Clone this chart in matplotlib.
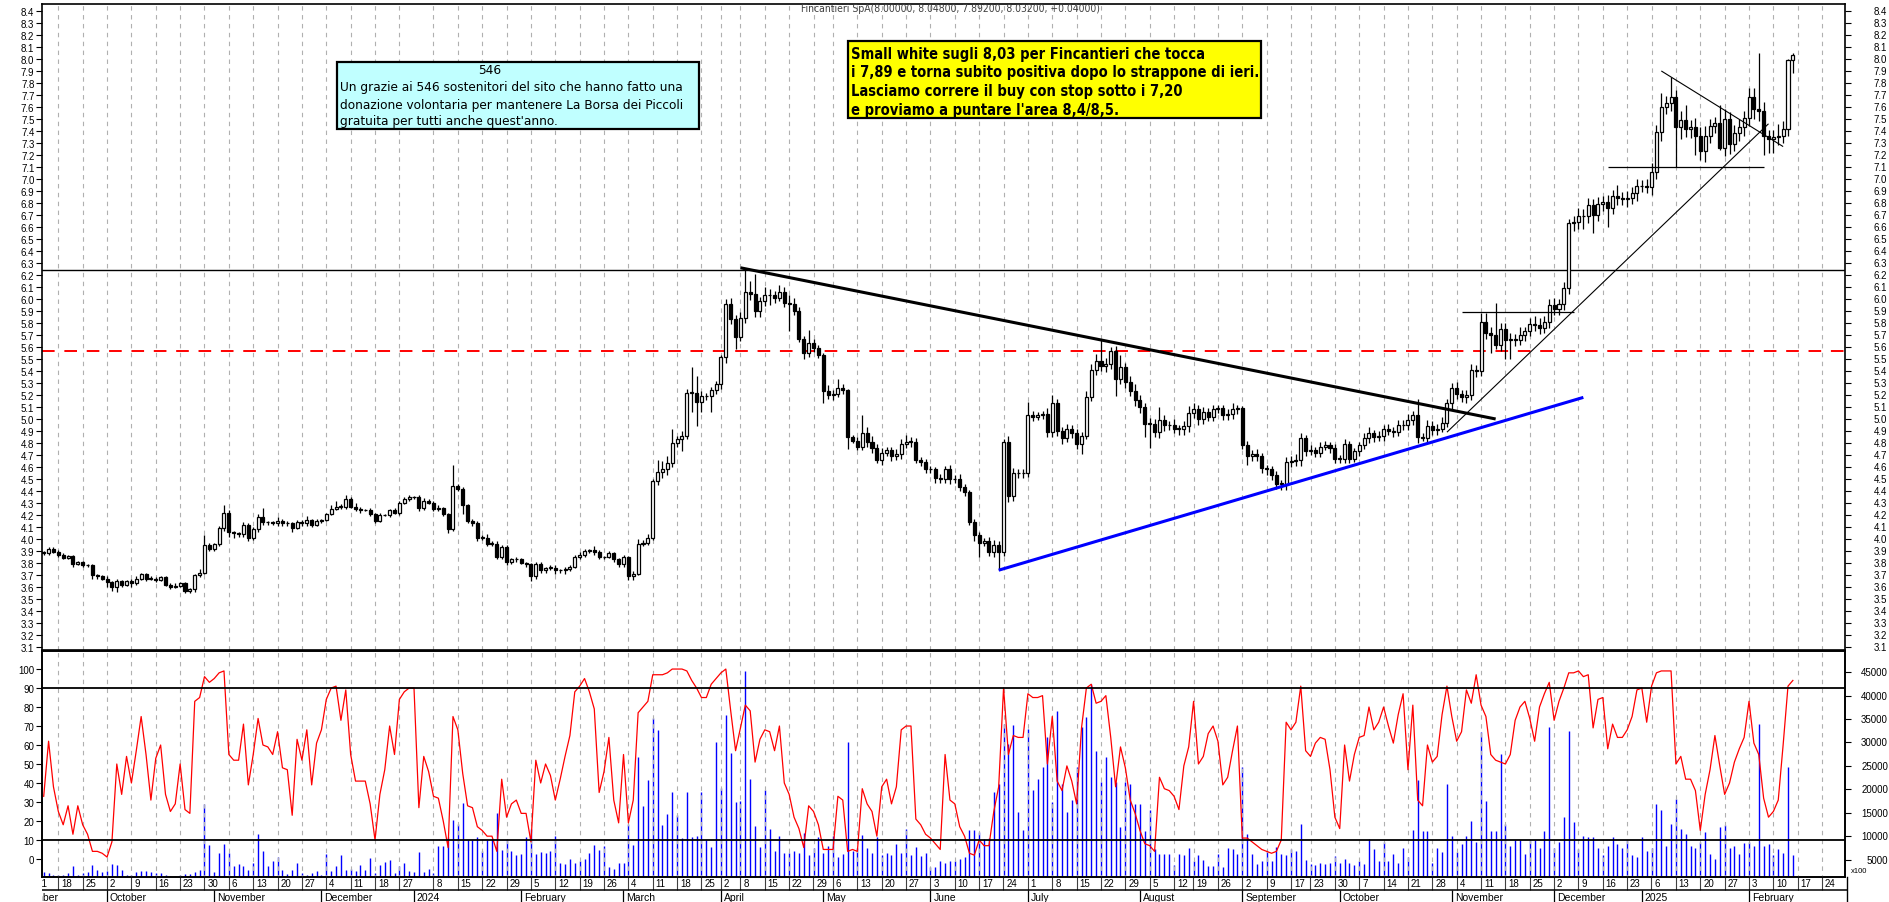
import matplotlib
matplotlib.use('Agg')
import matplotlib.pyplot as plt
import matplotlib.transforms as mtransforms
from matplotlib import font_manager
from matplotlib.patches import Rectangle
import numpy as np
import pandas as pd

W, H = 1890, 903

# daily closes, 13 Sep 2023 -> 14 Feb 2025
closes = [
    3.88, 3.92, 3.89, 3.87, 3.84, 3.86, 3.79, 3.81, 3.78, 3.78,
    3.70, 3.69, 3.67, 3.64, 3.60, 3.65, 3.62, 3.65, 3.63, 3.67,
    3.71, 3.67, 3.67, 3.66, 3.68, 3.62, 3.60, 3.61, 3.63, 3.57,
    3.58, 3.70, 3.72, 3.95, 3.92, 3.96, 4.09, 4.22, 4.06, 4.05,
    4.04, 4.12, 4.01, 4.08, 4.18, 4.14, 4.14, 4.13, 4.15, 4.13,
    4.13, 4.09, 4.14, 4.13, 4.16, 4.12, 4.15, 4.16, 4.21, 4.25,
    4.27, 4.27, 4.33, 4.27, 4.25, 4.24, 4.24, 4.21, 4.15, 4.20,
    4.20, 4.24, 4.22, 4.30, 4.33, 4.35, 4.35, 4.26, 4.32, 4.30,
    4.25, 4.26, 4.21, 4.08, 4.44, 4.42, 4.28, 4.15, 4.13, 4.01,
    4.01, 3.96, 3.96, 3.85, 3.93, 3.81, 3.83, 3.83, 3.80, 3.79,
    3.69, 3.79, 3.74, 3.76, 3.76, 3.74, 3.74, 3.75, 3.77, 3.85,
    3.87, 3.90, 3.91, 3.89, 3.85, 3.85, 3.88, 3.83, 3.79, 3.85,
    3.69, 3.71, 3.96, 3.97, 4.01, 4.48, 4.56, 4.58, 4.63, 4.80,
    4.83, 4.86, 5.22, 5.22, 5.14, 5.19, 5.19, 5.24, 5.29, 5.52,
    5.96, 5.83, 5.68, 5.84, 6.06, 6.04, 5.90, 5.98, 6.03, 6.03,
    6.01, 6.06, 5.97, 5.96, 5.90, 5.67, 5.55, 5.63, 5.59, 5.53,
    5.23, 5.20, 5.21, 5.26, 5.24, 4.85, 4.82, 4.77, 4.88, 4.81,
    4.76, 4.66, 4.72, 4.74, 4.69, 4.71, 4.79, 4.81, 4.81, 4.66,
    4.64, 4.58, 4.58, 4.51, 4.50, 4.58, 4.50, 4.50, 4.43, 4.39,
    4.14, 4.03, 3.97, 3.98, 3.89, 3.95, 3.89, 4.81, 4.36, 4.55,
    4.55, 4.55, 5.03, 5.02, 5.03, 5.04, 4.89, 5.13, 4.90, 4.84,
    4.92, 4.88, 4.79, 4.86, 5.18, 5.41, 5.48, 5.44, 5.46, 5.57,
    5.33, 5.43, 5.31, 5.23, 5.16, 5.10, 4.96, 4.96, 4.89, 4.99,
    4.95, 4.95, 4.92, 4.92, 4.94, 5.05, 5.08, 5.00, 5.06, 5.02,
    5.08, 5.09, 5.03, 5.04, 5.08, 5.09, 4.78, 4.69, 4.71, 4.69,
    4.59, 4.58, 4.53, 4.46, 4.46, 4.64, 4.65, 4.66, 4.84, 4.73,
    4.74, 4.72, 4.77, 4.78, 4.76, 4.67, 4.67, 4.79, 4.67, 4.73,
    4.78, 4.84, 4.88, 4.85, 4.86, 4.92, 4.90, 4.89, 4.95, 4.95,
    4.99, 5.03, 4.85, 4.84, 4.94, 4.91, 4.92, 4.97, 5.13, 5.26,
    5.21, 5.18, 5.20, 5.41, 5.40, 5.81, 5.72, 5.70, 5.62, 5.75,
    5.66, 5.66, 5.66, 5.70, 5.73, 5.79, 5.78, 5.76, 5.81, 5.95,
    5.92, 5.96, 6.09, 6.63, 6.64, 6.69, 6.69, 6.78, 6.70, 6.79,
    6.81, 6.76, 6.86, 6.84, 6.83, 6.84, 6.88, 6.94, 6.94, 6.93,
    7.06, 7.39, 7.60, 7.63, 7.68, 7.43, 7.49, 7.42, 7.43, 7.36,
    7.23, 7.36, 7.44, 7.47, 7.26, 7.50, 7.29, 7.38, 7.43, 7.51,
    7.68, 7.58, 7.57, 7.36, 7.33, 7.35, 7.36, 7.42, 7.99, 8.03,
]
first_open = 3.89

# shadows above / below the body, in cents
upper_wick = [
    1, 1, 1, 2, 1, 1, 1, 1, 1, 1, 1, 1, 1, 2, 1, 2, 1, 1, 2, 2,
    1, 1, 2, 1, 1, 1, 1, 2, 1, 1, 1, 1, 3, 8, 2, 1, 2, 6, 2, 1,
    1, 2, 1, 2, 3, 8, 1, 1, 3, 2, 2, 1, 2, 2, 3, 1, 2, 1, 1, 3,
    5, 2, 4, 2, 3, 2, 1, 2, 1, 2, 1, 1, 2, 2, 2, 2, 1, 2, 2, 1,
    2, 2, 1, 1, 18, 2, 1, 1, 2, 2, 2, 3, 2, 2, 2, 2, 1, 2, 1, 1,
    1, 2, 2, 1, 2, 2, 1, 2, 1, 2, 2, 2, 1, 3, 2, 1, 2, 1, 1, 2,
    1, 2, 4, 2, 3, 2, 10, 7, 6, 12, 3, 4, 3, 21, 14, 4, 3, 3, 3, 1,
    4, 5, 4, 5, 20, 9, 17, 4, 7, 5, 4, 6, 4, 6, 5, 3, 2, 11, 4, 3,
    2, 5, 3, 7, 3, 1, 2, 3, 15, 5, 5, 3, 4, 3, 3, 4, 4, 6, 4, 3,
    2, 3, 3, 2, 3, 3, 4, 3, 4, 3, 2, 3, 3, 3, 4, 4, 3, 2, 5, 4,
    3, 3, 11, 4, 3, 3, 5, 7, 4, 3, 4, 3, 4, 3, 5, 5, 6, 19, 5, 3,
    4, 10, 4, 5, 6, 4, 3, 5, 4, 11, 4, 3, 5, 3, 4, 6, 5, 4, 4, 3,
    4, 3, 3, 4, 5, 3, 2, 4, 3, 4, 3, 3, 3, 4, 3, 4, 4, 5, 4, 3,
    4, 3, 4, 4, 3, 3, 3, 4, 3, 3, 3, 4, 5, 3, 4, 3, 4, 3, 4, 4,
    5, 4, 14, 3, 5, 4, 4, 5, 4, 4, 5, 3, 4, 5, 4, 7, 7, 5, 27, 5,
    5, 6, 5, 7, 4, 5, 7, 6, 5, 5, 6, 4, 5, 4, 5, 7, 6, 6, 5, 6,
    5, 6, 5, 9, 5, 6, 5, 6, 5, 6, 7, 6, 12, 6, 17, 6, 8, 13, 6, 8,
    7, 8, 6, 5, 15, 8, 6, 7, 7, 6, 8, 8, 47, 7, 5, 6, 10, 6, 1, 2,
]
lower_wick = [
    1, 1, 1, 2, 1, 1, 2, 1, 1, 1, 3, 2, 1, 4, 3, 4, 2, 1, 3, 1,
    1, 2, 1, 2, 1, 1, 2, 1, 1, 2, 2, 2, 2, 1, 2, 2, 2, 2, 4, 4,
    2, 2, 3, 2, 2, 2, 2, 1, 2, 2, 2, 3, 1, 2, 2, 2, 1, 2, 1, 1,
    1, 2, 2, 1, 2, 2, 1, 2, 2, 1, 1, 2, 1, 2, 1, 1, 2, 3, 2, 1,
    2, 2, 2, 3, 1, 2, 7, 2, 2, 3, 2, 2, 2, 2, 2, 3, 2, 2, 1, 2,
    4, 2, 2, 2, 2, 3, 2, 3, 2, 1, 2, 2, 2, 2, 2, 2, 1, 2, 2, 2,
    3, 3, 1, 2, 2, 2, 3, 5, 5, 3, 3, 10, 3, 16, 20, 8, 3, 13, 3, 4,
    5, 4, 10, 3, 4, 5, 5, 5, 4, 8, 4, 3, 4, 23, 3, 3, 5, 3, 3, 2,
    10, 3, 4, 3, 3, 10, 2, 3, 3, 4, 4, 3, 4, 3, 4, 3, 4, 3, 4, 3,
    3, 3, 3, 4, 3, 3, 4, 3, 3, 3, 2, 5, 12, 3, 3, 4, 15, 3, 5, 4,
    4, 4, 3, 4, 3, 3, 4, 4, 4, 5, 3, 4, 4, 8, 3, 3, 4, 4, 5, 4,
    14, 4, 5, 4, 5, 5, 11, 20, 4, 5, 5, 4, 4, 5, 5, 5, 4, 5, 4, 4,
    4, 3, 4, 4, 4, 4, 3, 7, 4, 4, 4, 5, 4, 4, 5, 5, 4, 4, 5, 4,
    3, 4, 4, 3, 4, 4, 4, 4, 4, 3, 4, 3, 4, 4, 3, 4, 3, 4, 3, 4,
    4, 4, 5, 2, 4, 4, 4, 3, 4, 5, 4, 4, 5, 4, 5, 4, 5, 15, 4, 5,
    16, 16, 5, 4, 5, 4, 5, 5, 4, 5, 5, 5, 5, 5, 6, 6, 11, 6, 15, 5,
    6, 16, 5, 6, 5, 6, 5, 6, 5, 5, 6, 6, 7, 6, 6, 33, 10, 7, 8, 16,
    7, 9, 6, 6, 2, 7, 8, 6, 6, 7, 7, 8, 9, 16, 11, 11, 7, 6, 6, 11,
]

# volume (x100)
volumes = [
    2300, 2100, 1700, 1800, 1700, 2100, 3700, 1800, 2200, 2300,
    3900, 2700, 2300, 2500, 4100, 3900, 2800, 1700, 1800, 2300,
    2500, 2500, 2300, 2100, 2200, 1700, 1600, 1600, 1700, 1900,
    2000, 2400, 2900, 16900, 8200, 2400, 6400, 8400, 6400, 3600,
    4100, 3600, 2800, 4200, 10500, 6800, 3700, 4700, 5500, 2900,
    1900, 2900, 4200, 2200, 1800, 2100, 2500, 1800, 6200, 2500,
    3600, 5900, 2800, 3100, 2500, 3900, 2700, 5400, 2200, 3900,
    4500, 5000, 2100, 3600, 4400, 2600, 2300, 6700, 2300, 3000,
    2100, 8000, 7900, 9800, 13500, 12600, 17000, 9100, 9200, 9900,
    6800, 9100, 9400, 15000, 7100, 9400, 6900, 5900, 6200, 9900,
    11500, 6200, 6700, 6400, 6900, 10000, 4300, 4000, 5200, 4400,
    4800, 5200, 6400, 8200, 7100, 8000, 3500, 3000, 4200, 4300,
    12600, 8200, 26800, 16500, 21900, 35200, 32700, 12300, 14700, 19500,
    14500, 9600, 19400, 9900, 10100, 19400, 9300, 7800, 30200, 20200,
    35900, 27700, 17400, 17600, 45300, 22200, 12100, 7800, 19900, 11500,
    6900, 10100, 6400, 6400, 6900, 6400, 10700, 5900, 7600, 9900,
    6400, 7900, 10100, 5500, 6200, 30000, 6900, 7400, 10300, 7500,
    6400, 9900, 6100, 6400, 6000, 8300, 6400, 11500, 5900, 7800,
    5700, 6400, 3400, 3400, 4800, 4400, 4800, 4800, 5200, 5500,
    11300, 11300, 10800, 9400, 9600, 19500, 21100, 33900, 29700, 33700,
    15200, 11300, 32900, 19900, 22200, 24800, 31100, 17400, 36600, 21100,
    15100, 17700, 24700, 33200, 35400, 42500, 28200, 21500, 26800, 22600,
    21500, 11900, 21500, 21100, 16900, 16900, 11200, 15500, 7300, 6200,
    6200, 6200, 3900, 6200, 5900, 7600, 4700, 5900, 5000, 3600,
    3600, 6200, 3400, 7600, 7300, 6200, 24700, 10500, 6200, 4100,
    4800, 6900, 4800, 7800, 6200, 5900, 7300, 6900, 12600, 4900,
    4100, 3900, 4400, 4100, 4400, 5700, 4400, 5200, 4400, 3900,
    4800, 4100, 9400, 7300, 4800, 8700, 4800, 6200, 4400, 7500,
    5500, 11300, 21900, 11200, 11200, 4400, 7600, 6600, 21100, 10100,
    6600, 8300, 10100, 13300, 8700, 32200, 17600, 11200, 11200, 27500,
    12600, 8000, 9100, 9100, 6200, 9100, 9100, 7600, 11200, 33200,
    7600, 8700, 14000, 32500, 13000, 7300, 10100, 9800, 9800, 7600,
    5900, 8000, 9800, 8300, 7600, 9100, 5900, 5500, 9800, 6900,
    7600, 16900, 15500, 8000, 12600, 17900, 11500, 10500, 8000, 7400,
    8700, 10800, 6200, 5200, 11900, 12300, 7600, 8000, 6200, 8500,
    8700, 8000, 33900, 8000, 8300, 5900, 7300, 6400, 24700, 5900,
]

# stochastic oscillator (red line)
stoch = [
    33, 62, 38, 25, 18, 28, 13, 28, 18, 13,
    4, 4, 3, 1, 9, 50, 34, 54, 40, 57,
    75, 55, 31, 53, 60, 34, 25, 29, 50, 26,
    24, 83, 85, 96, 93, 95, 98, 99, 55, 52,
    52, 71, 39, 55, 74, 60, 59, 55, 67, 48,
    47, 23, 63, 52, 68, 39, 61, 68, 84, 90,
    91, 73, 89, 55, 41, 41, 41, 29, 10, 34,
    47, 70, 55, 84, 88, 90, 90, 27, 54, 46,
    33, 32, 20, 6, 75, 68, 45, 28, 27, 17,
    15, 12, 12, 4, 42, 22, 29, 31, 24, 24,
    9, 52, 40, 50, 44, 31, 42, 54, 65, 88,
    91, 95, 88, 79, 35, 46, 64, 31, 19, 55,
    19, 31, 77, 80, 83, 97, 97, 97, 98, 100,
    100, 100, 99, 94, 90, 85, 85, 92, 95, 98,
    100, 78, 57, 69, 81, 78, 51, 63, 68, 67,
    57, 70, 40, 34, 22, 16, 6, 28, 25, 18,
    5, 5, 5, 33, 31, 4, 5, 4, 37, 29,
    25, 12, 38, 42, 29, 38, 68, 70, 70, 21,
    18, 13, 11, 8, 5, 55, 31, 29, 17, 12,
    3, 2, 10, 7, 7, 25, 38, 90, 55, 65,
    64, 64, 87, 85, 85, 86, 50, 75, 41, 36,
    49, 41, 29, 69, 90, 92, 82, 83, 86, 64,
    38, 59, 48, 31, 24, 15, 8, 7, 4, 43,
    37, 36, 33, 26, 49, 59, 83, 50, 54, 66,
    70, 62, 39, 43, 57, 70, 11, 11, 9, 7,
    5, 4, 3, 4, 10, 72, 68, 72, 91, 57,
    54, 61, 64, 63, 47, 22, 16, 60, 41, 55,
    64, 65, 80, 68, 72, 80, 70, 61, 76, 87,
    47, 81, 31, 28, 60, 51, 54, 76, 91, 75,
    62, 67, 89, 82, 97, 81, 75, 55, 52, 51,
    50, 55, 73, 80, 83, 74, 62, 80, 87, 93,
    73, 83, 90, 98, 98, 99, 96, 97, 69, 84,
    85, 58, 71, 64, 64, 68, 75, 89, 90, 72,
    91, 98, 99, 99, 99, 50, 54, 42, 42, 36,
    15, 34, 47, 65, 49, 34, 40, 51, 58, 64,
    83, 61, 55, 32, 22, 25, 31, 60, 91, 94,
]

# exchange closures (plus one session missing from the feed)
holidays = ['2023-12-25', '2023-12-26', '2024-01-01', '2024-03-29', '2024-04-01',
            '2024-05-01', '2024-08-15', '2024-09-16', '2024-12-24', '2024-12-25',
            '2024-12-26', '2024-12-31', '2025-01-01']
first_session = '2023-09-13'

# analyst drawings: (date, price, date, price)
trend_main = ('2024-04-08', 6.26, '2024-11-14', 5.00)
trend_blue = ('2024-06-21', 3.74, '2024-12-10', 5.18)
trend_up = ('2024-10-31', 4.89, '2025-02-07', 7.46)
trend_flag = ('2025-01-08', 7.90, '2025-02-12', 7.27)
shelf_1 = ('2024-11-05', 5.89, '2024-12-06', 5.89)
shelf_2 = ('2024-12-17', 7.10, '2025-02-06', 7.10)
level_black = 6.24
level_red = 5.57
osc_levels = [10, 90]

title = 'Fincantieri SpA(8.00000, 8.04800, 7.89200, 8.03200, +0.04000)'
box_cyan = ['Un grazie ai 546 sostenitori del sito che hanno fatto una',
            'donazione volontaria per mantenere La Borsa dei Piccoli',
            "gratuita per tutti anche quest'anno."]
box_yellow = ['Small white sugli 8,03 per Fincantieri che tocca',
              'i 7,89 e torna subito positiva dopo lo strappone di ieri.',
              'Lasciamo correre il buy con stop sotto i 7,20',
              "e proviamo a puntare l'area 8,4/8,5."]
month_names = ['', '', 'February', 'March', 'April', 'May', 'June', 'July',
               'August', 'September', 'October', 'November', 'December']

plt.rcParams['font.family'] = ['Liberation Sans', 'DejaVu Sans']
names = {f.name for f in font_manager.fontManager.ttflist}
if 'Liberation Sans Narrow' in names:
    narrow = dict(family=['Liberation Sans Narrow', 'DejaVu Sans'])
else:
    narrow = dict(family=['DejaVu Sans'], stretch='condensed')

cal = pd.bdate_range('2023-09-01', '2025-02-28', freq='C', holidays=holidays)
k0 = cal.get_loc(pd.Timestamp(first_session))
pos = np.arange(len(cal)) - k0
pos_of = {d: p for d, p in zip(cal, pos)}


def P(d):
    return pos_of[pd.Timestamp(d)]


n = len(closes)
x = np.arange(n)
c = np.array(closes)
o = np.concatenate([[first_open], c[:-1]])
hi = np.maximum(o, c) + np.array(upper_wick) / 100
lo_w = np.minimum(o, c) - np.array(lower_wick) / 100

# week starts (first session of each week) and month starts
iso = cal.isocalendar()
wk_first = ~pd.Series(list(zip(iso.year, iso.week))).duplicated().values
year_first = ~pd.Series(cal.year).duplicated().values
week_ids = np.cumsum(wk_first)
skip_weeks = set(week_ids[year_first])
week_pos = [p for p, f, w in zip(pos, wk_first, week_ids) if f and w not in skip_weeks]
week_lab = [str(d.day) for d, f, w in zip(cal, wk_first, week_ids) if f and w not in skip_weeks]
mo_first = ~pd.Series(cal.to_period('M')).duplicated().values
month_pos = [p for p, f in zip(pos, mo_first) if f]
month_lab = [str(d.year) if d.month == 1 else month_names[d.month] for d, f in zip(cal, mo_first) if f]

fig = plt.figure(figsize=(W / 100, H / 100), dpi=100)
fx = lambda v: v / W
fy = lambda v: 1 - v / H
XL = (-0.35, 369.7)

ax1 = fig.add_axes([fx(42), fy(651), (1845 - 42) / W, (651 - 5) / H])
ax2 = fig.add_axes([fx(42), fy(878), (1845 - 42) / W, (878 - 652) / H])
ax2v = ax2.twinx()
axd = fig.add_axes([fx(42), 0, (1847 - 42) / W, 25 / H])

grid_kw = dict(color='#b0b0b0', lw=0.8, linestyle=(0, (4, 4)), zorder=1)

# ---- price panel
ax1.set_xlim(*XL)
ax1.set_ylim(3.075, 8.458)
ax1.vlines(week_pos, 3.0, 8.5, **grid_kw)
ax1.axhline(level_black, color='black', lw=1.0, zorder=2)
ax1.axhline(level_red, color='red', lw=1.4, linestyle=(0, (6.5, 5)), zorder=2)

up = c >= o
lo = np.minimum(o, c)
hgt = np.maximum(np.abs(c - o), 0.004)
ax1.vlines(x, lo_w, hi, color='black', lw=0.9, zorder=3)
ax1.bar(x[up], hgt[up], bottom=lo[up], width=0.62, color='white',
        edgecolor='black', linewidth=0.9, zorder=4)
ax1.bar(x[~up], hgt[~up], bottom=lo[~up], width=0.62, color='black',
        edgecolor='black', linewidth=0.9, zorder=4)

for (d1, p1, d2, p2), col, lw in [(trend_main, 'black', 2.2), (trend_blue, '#0000ff', 2.2),
                                  (trend_up, 'black', 0.8), (trend_flag, 'black', 0.8),
                                  (shelf_1, 'black', 0.9), (shelf_2, 'black', 0.9)]:
    ax1.plot([P(d1), P(d2)], [p1, p2], color=col, lw=lw, zorder=5, solid_capstyle='butt')

pticks = np.round(np.arange(3.1, 8.41, 0.1), 1)
ax1.set_yticks(pticks)
ax1.set_yticklabels(['%.1f' % v for v in pticks])
ax1.tick_params(axis='y', which='major', left=True, right=True, direction='out',
                length=4.5, width=0.8, labelsize=7, pad=1)
ax1.set_xticks([])
for s in ax1.spines.values():
    s.set_linewidth(1.2)
tr1 = mtransforms.blended_transform_factory(fig.transFigure, ax1.transData)
for v in pticks:
    ax1.text(fx(1887), v, '%.1f' % v, transform=tr1, ha='right', va='center',
             fontsize=7, clip_on=False)

# ---- oscillator / volume panel
ax2.set_xlim(*XL)
ax2.set_ylim(-9.5, 109.5)
ax2v.set_ylim(1312, 49495)
ax2v.vlines(x, 0, volumes, color='#0000ff', lw=1.0)
ax2.vlines(week_pos, -20, 120, **grid_kw)
ax2.plot(x, stoch, color='red', lw=0.9, zorder=3)
for lv in osc_levels:
    ax2.axhline(lv, color='black', lw=1.3, zorder=4)
ax2.set_zorder(ax2v.get_zorder() + 1)
ax2.patch.set_visible(False)
ax2.set_yticks(range(0, 101, 10))
ax2.tick_params(axis='y', direction='out', length=4.5, width=0.8, labelsize=7, pad=1)
ax2.set_xticks([])
ax2v.set_yticks(range(5000, 45001, 5000))
ax2v.set_yticklabels([])
ax2v.tick_params(axis='y', direction='out', length=4.5, width=0.8)
for s in list(ax2.spines.values()) + list(ax2v.spines.values()):
    s.set_linewidth(1.2)
tr2 = mtransforms.blended_transform_factory(fig.transFigure, ax2v.transData)
for v in range(5000, 45001, 5000):
    ax2v.text(fx(1888), v, str(v), transform=tr2, ha='right', va='center',
              fontsize=7, clip_on=False)
fig.text(fx(1851), fy(872), 'x100', fontsize=5.5, va='center', ha='left')

# ---- date strip
axd.set_xlim(XL[0], XL[0] + (1847 - 42) / 4.872)
axd.set_ylim(0, 1)
axd.axis('off')
axd.vlines(week_pos, 0.5, 1.0, color='#404040', lw=0.8)
axd.vlines(month_pos, 0.0, 0.5, color='black', lw=0.9)
axd.axhline(0.48, color='black', lw=1.1)
for p, t in zip(week_pos, week_lab):
    axd.text(p + 0.6, 0.74, t, fontsize=7, ha='left', va='center', clip_on=True)
for p, t in zip(month_pos, month_lab):
    axd.text(p + 0.6, 0.2, t, fontsize=7.5, ha='left', va='center', clip_on=True)
fig.add_artist(plt.Line2D([fx(1847), fx(1847)], [fy(903), fy(878)], color='black', lw=1.0))

# ---- texts
fig.text(fx(801), fy(8.5), title, fontsize=7.5, color='#404040', ha='left', va='center', **narrow)

fig.add_artist(Rectangle((fx(337), fy(130)), (699 - 337) / W, 67 / H, transform=fig.transFigure,
                         facecolor='#c0ffff', edgecolor='black', lw=1.6, zorder=6))
fig.text(fx(490), fy(70), '546', fontsize=9.7, ha='center', va='center', zorder=7, **narrow)
for k, line in enumerate(box_cyan):
    fig.text(fx(340), fy(88 + 17 * k), line, fontsize=9.7, ha='left', va='center', zorder=7, **narrow)

fig.add_artist(Rectangle((fx(848), fy(119)), (1261 - 848) / W, 77 / H, transform=fig.transFigure,
                         facecolor='#ffff00', edgecolor='black', lw=1.6, zorder=6))
for k, line in enumerate(box_yellow):
    fig.text(fx(851), fy(54 + 18.7 * k), line, fontsize=10.5, fontweight='bold', ha='left',
             va='center', zorder=7, **narrow)

fig.savefig('out.png', dpi=100)
